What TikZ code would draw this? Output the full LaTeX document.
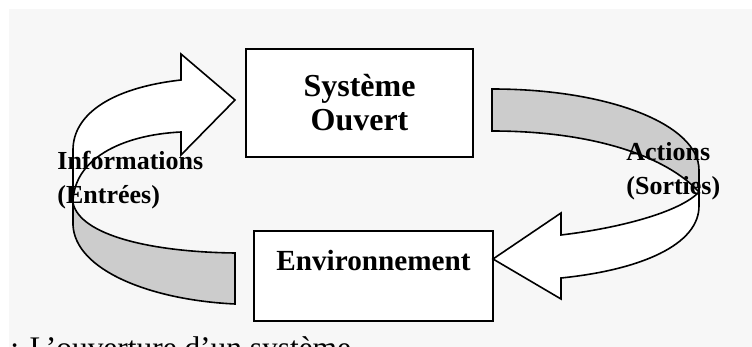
\documentclass[tikz,border=0pt]{standalone}
\usepackage{fontspec}
\setmainfont{Liberation Serif}
\definecolor{pagegray}{HTML}{F7F7F7}
\definecolor{bandgray}{HTML}{CCCCCC}

\tikzset{
  boxnode/.style={draw, fill=white, line width=0.8pt, align=center,
    font=\bfseries\fontsize{14.6}{16}\selectfont},
  labelnode/.style={align=left, inner sep=0pt,
    font=\bfseries\fontsize{13}{17}\selectfont},
  front/.style={draw, fill=white, line width=0.8pt},
  band/.style={draw, fill=bandgray, line width=0.8pt},
}

\begin{document}
\begin{tikzpicture}[x=0.5pt,y=-0.5pt]
        \useasboundingbox (0,0) rectangle (752,347);
        \clip (0,0) rectangle (752,347);
        \fill[pagegray] (9,9) rectangle (752,347);

        \node[boxnode, minimum width=113.5pt, minimum height=54pt, font=\bfseries\fontsize{16}{17}\selectfont] (sys) at (359.5,103) {Système\\Ouvert};
        \node[boxnode, minimum width=119.5pt, minimum height=45pt, text depth=16pt] (env) at (373.5,276) {Environnement};

        % entrees
        \draw[band] (73,203) .. controls (80,235) and (150,252) .. (235,253) -- (235,304) .. controls (150,300) and (75,270) .. (73,225) -- cycle;
        \draw[front] (235,100) -- (181,54) -- (181,80) .. controls (110,88) and (73,115) .. (73,150) -- (73,203) .. controls (73,160) and (120,135) .. (181,132) -- (181,155) -- cycle;

        % sorties
        \draw[band] (492,89) .. controls (610,89) and (699,125) .. (699,170) -- (699,192) .. controls (665,155) and (590,131) .. (492,131) -- cycle;
        \draw[front] (493,259) -- (561,213) -- (561,235) .. controls (620,228) and (680,212) .. (699,192) -- (699,205) .. controls (700,245) and (640,270) .. (561,278) -- (561,299) -- cycle;

        \node[labelnode, anchor=west] (info) at (57,180) {Informations\\(Entrées)};
        \node[labelnode, anchor=west] (act) at (626,171) {Actions\\(Sorties)};

        \node[anchor=base west, inner sep=0pt, font=\fontsize{15.7}{18}\selectfont] (caption) at (10,359) {: L’ouverture d’un système};
\end{tikzpicture}
\end{document}
